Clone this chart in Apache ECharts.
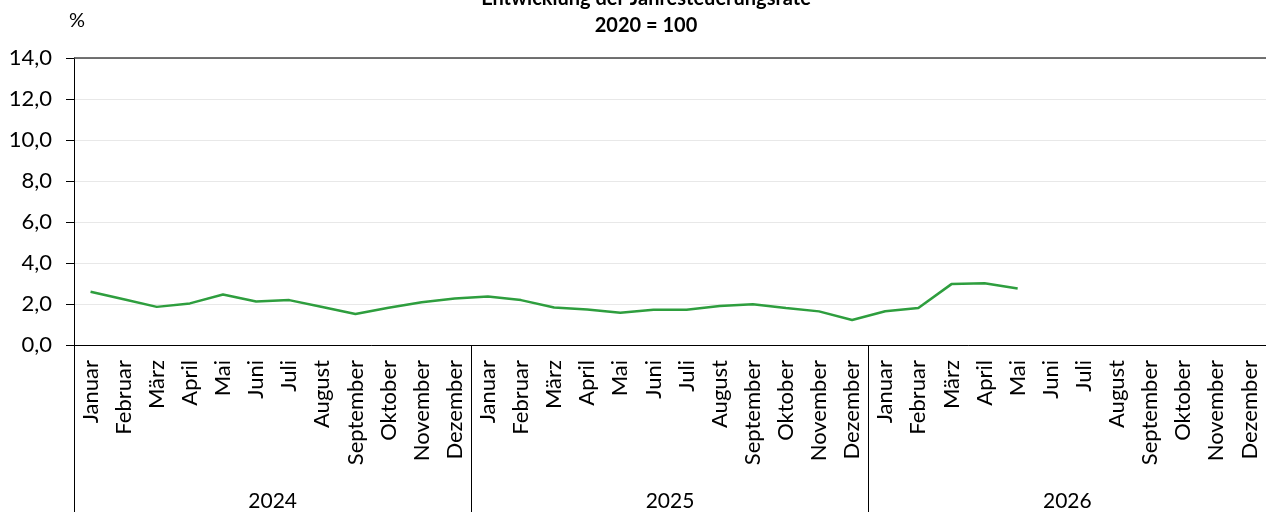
<!DOCTYPE html>
<html>
<head>
<meta charset="utf-8">
<script src="https://cdn.jsdelivr.net/npm/echarts@6/dist/echarts.min.js"></script>
<style>html,body{margin:0;padding:0;background:#fff}#c{width:1266px;height:512px}</style>
</head>
<body>
<div id="c"></div>
<script>
const months = ['Januar','Februar','März','April','Mai','Juni','Juli','August','September','Oktober','November','Dezember'];
const years = ['2024','2025','2026'];
const values2024 = [2.6, 2.23, 1.86, 2.03, 2.46, 2.12, 2.19, 1.85, 1.51, 1.82, 2.09, 2.27];
const values2025 = [2.37, 2.19, 1.83, 1.73, 1.57, 1.72, 1.72, 1.9, 1.99, 1.81, 1.64, 1.22];
const values2026 = [1.65, 1.8, 2.97, 3.01, 2.76, null, null, null, null, null, null, null];
const yTicks = [0, 2, 4, 6, 8, 10, 12, 14];

const categories = [];
years.forEach(y => months.forEach(m => categories.push(y + '|' + m)));
const data = values2024.concat(values2025, values2026);
const FONT = 'Lato';

const chart = echarts.init(document.getElementById('c'), null, {renderer: 'canvas'});
chart.setOption({
  animation: false,
  backgroundColor: '#fff',
  textStyle: {fontFamily: FONT},
  title: [
    {text: 'Entwicklung der Jahresteuerungsrate', left: 641, textAlign: 'center', top: -16,
     textStyle: {fontFamily: FONT, fontSize: 20, fontWeight: 'bold', color: '#000'}},
    {text: '2020 = 100', left: 641, textAlign: 'center', top: 11,
     textStyle: {fontFamily: FONT, fontSize: 20, fontWeight: 'bold', color: '#000'}},
    {text: '%', left: 64, top: 6,
     textStyle: {fontFamily: FONT, fontSize: 20, fontWeight: 'normal', color: '#000'}}
  ],
  grid: {left: 74, right: 0, top: 58, bottom: 166, containLabel: false},
  xAxis: [
    {type: 'category', data: categories, boundaryGap: true,
     axisLine: {show: true, lineStyle: {color: '#000', width: 1}},
     axisTick: {show: false},
     axisLabel: {rotate: 90, interval: 0, margin: 15, fontSize: 22, color: '#000', fontFamily: FONT,
       formatter: v => v.split('|')[1]}},
    {type: 'category', data: years, position: 'bottom', boundaryGap: true,
     axisLine: {show: false},
     axisTick: {show: true, inside: false, length: 170, lineStyle: {color: '#000', width: 1}},
     axisLabel: {interval: 0, margin: 146, fontSize: 21, color: '#000', fontFamily: FONT}}
  ],
  yAxis: {
    type: 'value', min: yTicks[0], max: yTicks[yTicks.length - 1], interval: 2,
    axisLine: {show: true, lineStyle: {color: '#000', width: 1}},
    axisTick: {show: true, inside: false, length: 8, lineStyle: {color: '#000'}},
    axisLabel: {margin: 22, fontSize: 22, color: '#000', fontFamily: FONT,
      formatter: v => v.toFixed(1).replace('.', ',')},
    splitLine: {show: true, lineStyle: {color: '#e8e8e8', width: 1}}
  },
  series: [{
    type: 'line', data: data, xAxisIndex: 0, showSymbol: false, symbol: 'none',
    lineStyle: {color: '#2e9e3e', width: 2.5}, connectNulls: false,
    markLine: {
      silent: true, symbol: 'none', label: {show: false},
      lineStyle: {color: '#444', type: 'solid', width: 1.5},
      data: [{yAxis: yTicks[yTicks.length - 1]}]
    }
  }]
});
</script>
</body>
</html>
